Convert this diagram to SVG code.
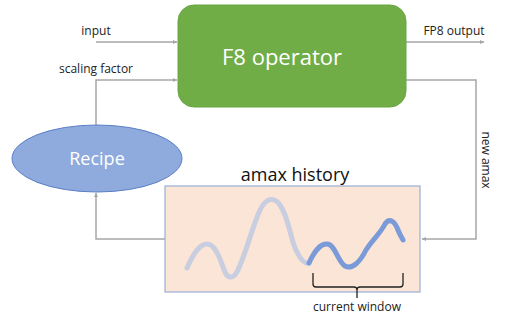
<svg xmlns="http://www.w3.org/2000/svg" width="506" height="323" viewBox="0 0 506 323">
<style>
.lbl{font-family:"Open Sans","Noto Sans",sans-serif;font-size:12px;fill:#222}
.big{font-family:"Open Sans","Noto Sans",sans-serif;fill:#fff}
.conn{fill:none;stroke:#a6a6a6;stroke-width:1.5}
</style>
<defs>
<marker id="ah" viewBox="0 0 6 6" refX="6" refY="3" markerWidth="4" markerHeight="4" orient="auto" markerUnits="userSpaceOnUse">
<path d="M0,0L6,3L0,6z" fill="#a6a6a6"/>
</marker>
</defs>
<rect width="506" height="323" fill="#fff"/>
<g id="connectors">
<path class="conn" d="M96,42H177" marker-end="url(#ah)"/>
<path class="conn" d="M96,125V80H177" marker-end="url(#ah)"/>
<path class="conn" d="M406,42H484" marker-end="url(#ah)"/>
<path class="conn" d="M406,80H476V239H422" marker-end="url(#ah)"/>
<path class="conn" d="M165,239H96V193" marker-end="url(#ah)"/>
<text class="lbl" x="96" y="35" text-anchor="middle">input</text>
<text class="lbl" x="96" y="73" text-anchor="middle">scaling factor</text>
<text class="lbl" x="454" y="35" text-anchor="middle">FP8 output</text>
<text class="lbl" transform="translate(482,160) rotate(90)" text-anchor="middle">new amax</text>
</g>
<g id="f8op">
<rect x="178" y="5" width="228" height="102" rx="16" fill="#70ad47" stroke="#6aa543" stroke-width="1"/>
<text class="big" x="282" y="65" font-size="22" text-anchor="middle">F8 operator</text>
</g>
<g id="recipe">
<ellipse cx="97" cy="158.5" rx="85" ry="33.5" fill="#8faadc" stroke="#5b7fc7" stroke-width="1"/>
<text class="big" x="97" y="165" font-size="18" text-anchor="middle">Recipe</text>
</g>
<g id="amax">
<text x="295" y="181" font-family="'Open Sans','Noto Sans',sans-serif" font-size="18" fill="#111" text-anchor="middle">amax history</text>
<rect x="165" y="186" width="255" height="106" fill="#fbe5d6" stroke="#9aaed6" stroke-width="1.2"/>
<path d="M187,268C194,252 200,244 207,244C216,244 221,262 225,272C228,279 234,279 238,270C247,250 253,225 260,210C266,198 274,196 280,205C290,220 290,240 297,252C302,262 306,264 309,263" fill="none" stroke="#c8cde0" stroke-width="5" stroke-linecap="round"/>
<path d="M309,263C315,250 320,244 327,244C335,244 338,262 345,266C352,270 360,262 366,250C372,240 380,234 385,224C390,217 395,222 398,230C400,235 402,238 403,240" fill="none" stroke="#7b9ad8" stroke-width="5" stroke-linecap="round"/>
<path d="M313,273V284Q313,287 316,287H354Q357,287 357,290V298M357,290Q357,287 360,287H400Q403,287 403,284V273" fill="none" stroke="#222" stroke-width="1.3"/>
<text class="lbl" x="357" y="311" text-anchor="middle">current window</text>
</g>
</svg>
